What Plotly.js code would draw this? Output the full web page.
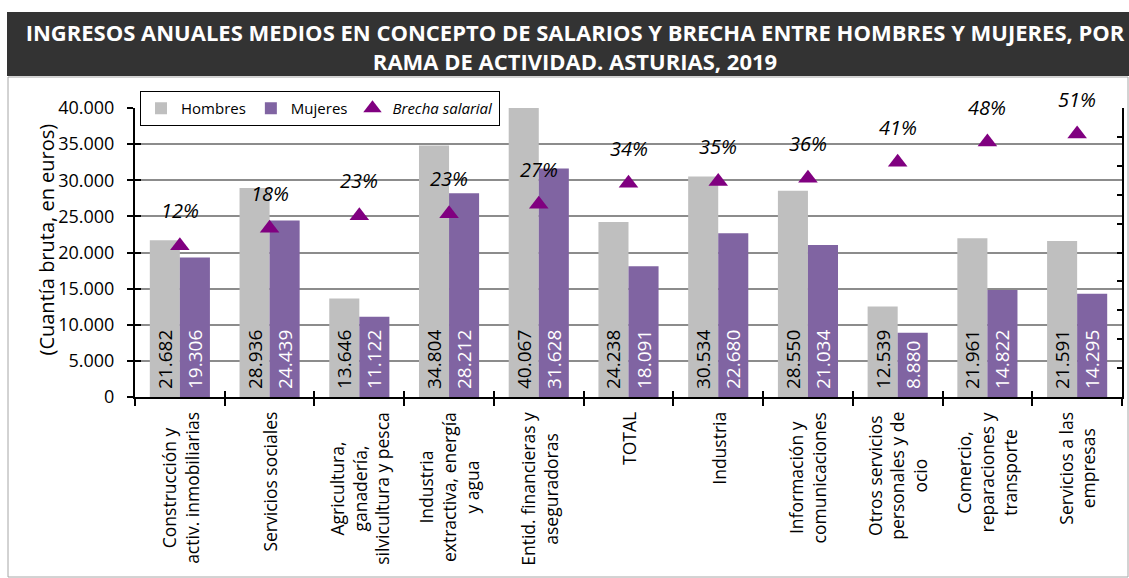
<!DOCTYPE html>
<html>
<head>
<meta charset="utf-8">
<script src="https://cdn.plot.ly/plotly-3.0.1.min.js"></script>
<style>html,body{margin:0;padding:0;background:#fff;}#chart{width:1129px;height:578px;}</style>
</head>
<body>
<div id="chart"></div>
<script>
// ---- data ----
var categories = [
  'Construcción y<br>activ. inmobiliarias',
  'Servicios sociales',
  'Agricultura,<br>ganadería,<br>silvicultura y pesca',
  'Industria<br>extractiva, energía<br>y agua',
  'Entid. financieras y<br>aseguradoras',
  'TOTAL',
  'Industria',
  'Información y<br>comunicaciones',
  'Otros servicios<br>personales y de<br>ocio',
  'Comercio,<br>reparaciones y<br>transporte',
  'Servicios a las<br>empresas'
];
var hombres = [21682, 28936, 13646, 34804, 40067, 24238, 30534, 28550, 12539, 21961, 21591];
var mujeres = [19306, 24439, 11122, 28212, 31628, 18091, 22680, 21034, 8880, 14822, 14295];
var brecha  = [12.3, 18.4, 22.7, 23.4, 26.7, 34.0, 34.6, 35.7, 41.2, 48.2, 51.0];
var yTicks  = [0, 5000, 10000, 15000, 20000, 25000, 30000, 35000, 40000];

var FONT = 'Open Sans, Lato, sans-serif';
var W = 1129, H = 578, L = 135, R = 7, T = 108, B = 181;
var pw = W - L - R, ph = H - T - B;
function px(x){ return (x - L) / pw; }
function py(y){ return (H - B - y) / ph; }

var brechaFrac = brecha.map(function(v){ return v / 100; });
var PAD = '\u00a0';

var traces = [
  {type:'bar', name:'Hombres', x:categories, y:hombres,
   marker:{color:'#BFBFBF'},
   texttemplate:PAD + '%{y:,.0f}', textposition:'inside', insidetextanchor:'start',
   textangle:-90, constraintext:'none',
   insidetextfont:{family:FONT, size:19, color:'#000000'}, hoverinfo:'skip'},
  {type:'bar', name:'Mujeres', x:categories, y:mujeres,
   marker:{color:'#8064A2'},
   texttemplate:PAD + '%{y:,.0f}', textposition:'inside', insidetextanchor:'start',
   textangle:-90, constraintext:'none',
   insidetextfont:{family:FONT, size:19, color:'#FFFFFF'}, hoverinfo:'skip'},
  {type:'scatter', mode:'markers', name:'<i>Brecha salarial</i>', x:categories, y:brechaFrac,
   xaxis:'x2', yaxis:'y2',
   marker:{symbol:'triangle-up', size:17, color:'#800080'}, hoverinfo:'skip'},
  {type:'scatter', mode:'markers', x:[], y:[], yaxis:'y3', showlegend:false, hoverinfo:'skip'}
];

var annotations = [];
categories.forEach(function(c){
  annotations.push({x:c, xref:'x', y:0, yref:'paper', yshift:-13, yanchor:'top', xanchor:'center',
    textangle:-90, align:'center', showarrow:false, text:c,
    font:{family:FONT, size:17.5, color:'#000'}});
});
brecha.forEach(function(v, i){
  annotations.push({x:categories[i], xref:'x2', y:v/100, yref:'y2', yshift:35,
    showarrow:false, text:'<i>' + Math.round(v) + '%</i>',
    font:{family:FONT, size:20, color:'#000'}});
});
annotations.push({x:px(30), xref:'paper', y:py(240), yref:'paper', textangle:-90, showarrow:false,
  text:'(Cuantía bruta, en euros)', font:{family:FONT, size:20, color:'#000'}});

var shapes = [
  {type:'rect', xref:'paper', yref:'paper', x0:px(7), x1:px(1129), y0:py(76), y1:py(12),
   fillcolor:'#333333', line:{width:0}, layer:'below'},
  {type:'rect', xref:'paper', yref:'paper', x0:px(8), x1:px(1128), y0:py(577), y1:py(77),
   fillcolor:'rgba(0,0,0,0)', line:{color:'#A6A6A6', width:1}, layer:'below'}
];

var layout = {
  width:W, height:H,
  margin:{l:L, r:R, t:T, b:B, pad:0},
  paper_bgcolor:'#ffffff', plot_bgcolor:'#ffffff',
  separators:',.',
  font:{family:FONT, color:'#000'},
  title:{text:'INGRESOS ANUALES MEDIOS EN CONCEPTO DE SALARIOS Y BRECHA ENTRE HOMBRES Y MUJERES, POR<br>RAMA DE ACTIVIDAD. ASTURIAS, 2019',
    font:{family:FONT, size:22, color:'#ffffff', weight:'bold'},
    xref:'paper', x:px(575), xanchor:'center', yref:'container', y:1 - 41/H, yanchor:'middle'},
  barmode:'group', bargap:0.33, bargroupgap:0,
  showlegend:true,
  legend:{orientation:'h', x:px(140), y:py(91), xanchor:'left', yanchor:'top',
    bgcolor:'#ffffff', bordercolor:'#000', borderwidth:1,
    font:{family:FONT, size:15, color:'#000'}, traceorder:'normal', itemwidth:30},
  xaxis:{type:'category', range:[-0.5, 10.5], tickson:'boundaries', ticks:'outside', ticklen:7,
    tickcolor:'#000', tickwidth:2, showticklabels:false, showline:true, linecolor:'#000', linewidth:2,
    showgrid:false, zeroline:false, fixedrange:true},
  xaxis2:{type:'category', overlaying:'x', anchor:'y2', side:'bottom', range:[-0.5, 10.5],
    tickson:'boundaries', ticks:'inside', ticklen:6, tickcolor:'#000', tickwidth:2,
    showticklabels:false, showline:false, showgrid:false, zeroline:false},
  yaxis:{range:[0, 40000], tickvals:yTicks, tickformat:',.0f', ticks:'outside', ticklen:6,
    tickcolor:'#000', tickwidth:2, showline:true, linecolor:'#000', linewidth:2,
    showgrid:true, gridcolor:'#8C8C8C', gridwidth:2, zeroline:false, ticklabelstandoff:9,
    tickfont:{family:FONT, size:18, color:'#000'}},
  yaxis2:{overlaying:'y', side:'right', anchor:'x', range:[-0.4, 0.6], dtick:0.1, ticks:'inside', ticklen:5,
    tickcolor:'#000', tickwidth:2, showticklabels:false, showline:true, linecolor:'#000', linewidth:2,
    showgrid:false, zeroline:false},
  yaxis3:{overlaying:'y', side:'left', anchor:'x', range:[0, 40000], tickvals:yTicks, ticks:'inside', ticklen:6,
    tickcolor:'#000', tickwidth:2, showticklabels:false, showline:false, showgrid:false, zeroline:false},
  annotations:annotations,
  shapes:shapes
};

Plotly.newPlot('chart', traces, layout, {displayModeBar:false, staticPlot:true});
</script>
</body>
</html>
